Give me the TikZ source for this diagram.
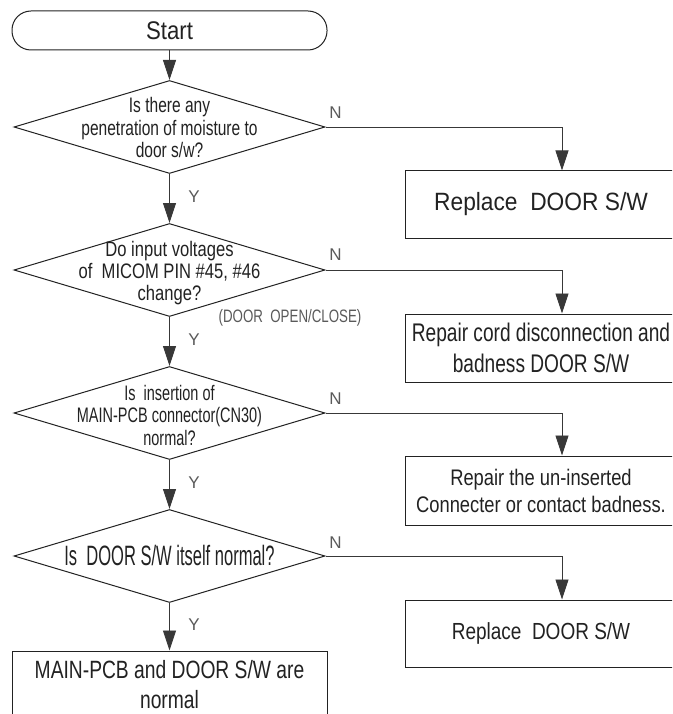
\documentclass[tikz,border=0pt]{standalone}
\usepackage{fontspec}
\setmainfont{Liberation Sans}
\usetikzlibrary{arrows.meta,shapes.geometric}
\definecolor{ink}{HTML}{222222}
\definecolor{lbl}{HTML}{5A5A5A}
\newcommand\ft[3]{\fontsize{#1}{#2}\selectfont\addfontfeature{FakeStretch=#3}}
\tikzset{
  shp/.style={draw=ink, line width=1pt, text=ink, inner sep=0pt, align=center},
  boxr/.style={shp, rectangle, minimum width=272pt},
  dmd/.style={draw=ink, line width=1pt, diamond, minimum width=311pt, minimum height=93pt, inner sep=0pt},
  dtxt/.style={text=ink, inner sep=0pt, align=center},
  conn/.style={draw=ink!90, line width=0.9pt},
  arr/.style={conn, -{Triangle[length=20pt,width=13pt]}},
  yn/.style={text=lbl, inner sep=0pt, font=\fontsize{17}{17}\selectfont}
}
\begin{document}
\begin{tikzpicture}[x=1pt,y=-1pt]
\useasboundingbox (0,0) rectangle (672,714);
\clip (0,0) rectangle (672,714);
\fill[white] (0,0) rectangle (672,714);

% start
\node[shp, minimum width=315pt, minimum height=39pt, rounded corners=19pt,
      font=\ft{25.5}{26}{0.87}] (start) at (169.5,30.5) {Start};

% diamonds
\node[dmd] (d1) at (169.5,127) {};
\node[dtxt, font=\ft{21}{22.5}{0.74}] (d1t) at (169.5,127.5) {Is there any\\penetration of moisture to\\door s/w?};
\node[dmd] (d2) at (169.5,270) {};
\node[dtxt, font=\ft{21}{22}{0.79}] (d2t) at (169.5,273) {Do input voltages\\of\ \ MICOM PIN \#45, \#46\\change?};
\node[dmd] (d3) at (169.5,413) {};
\node[dtxt, font=\ft{21}{22.5}{0.69}] (d3t) at (169.5,415) {Is\ \ insertion of\\MAIN-PCB connector(CN30)\\normal?};
\node[dmd] (d4) at (169.5,556) {};
\node[dtxt, font=\ft{28}{28}{0.59}] (d4t) at (169.5,555) {Is\ \ DOOR S/W itself normal?};

% right boxes
\node[boxr, minimum height=67pt, font=\ft{25}{25}{0.91}] (b1) at (541,204.5) {Replace\ \ DOOR S/W};
\node[boxr, minimum height=68pt, font=\ft{25.5}{31}{0.75}] (b2) at (541,348) {Repair cord disconnection and\\badness DOOR S/W};
\node[boxr, minimum height=69pt, font=\ft{22.5}{27}{0.815}] (b3) at (541,490.5) {Repair the un-inserted\\Connecter or contact badness.};
\node[boxr, minimum height=67pt, font=\ft{23.3}{23.3}{0.815}] (b4) at (541,633.5) {Replace\ \ DOOR S/W};

% final box
\node[shp, rectangle, minimum width=315pt, minimum height=110pt] (fin) at (169.5,706) {};
\node[dtxt, font=\ft{25}{30}{0.77}] (fint) at (169.5,684.5) {MAIN-PCB and DOOR S/W are\\normal};

% connectors
\draw[arr] (start.south) -- (d1.north);
\draw[arr] (d1.south) -- (d2.north);
\draw[arr] (d2.south) -- (d3.north);
\draw[arr] (d3.south) -- (d4.north);
\draw[arr] (d4.south) -- (fin.north);

\draw[arr] (d1.east) -| ([xshift=21pt]b1.north);
\draw[arr] (d2.east) -| ([xshift=21pt]b2.north);
\draw[arr] (d3.east) -| ([xshift=21pt]b3.north);
\draw[arr] (d4.east) -| ([xshift=21pt]b4.north);

% labels
\node[yn] (n1) at ([xshift=10pt,yshift=14pt]d1.east) {N};
\node[yn] (n2) at ([xshift=10pt,yshift=15pt]d2.east) {N};
\node[yn] (n3) at ([xshift=10pt,yshift=14pt]d3.east) {N};
\node[yn] (n4) at ([xshift=10pt,yshift=13pt]d4.east) {N};
\node[yn] (y1) at (194,197) {Y};
\node[yn] (y2) at (194,340) {Y};
\node[yn] (y3) at (194,483) {Y};
\node[yn] (y4) at (194,625) {Y};
\node[text=lbl, inner sep=0pt, font=\ft{18}{18}{0.74}] (oc) at (290,318) {(DOOR\ \ OPEN/CLOSE)};
\end{tikzpicture}
\end{document}
